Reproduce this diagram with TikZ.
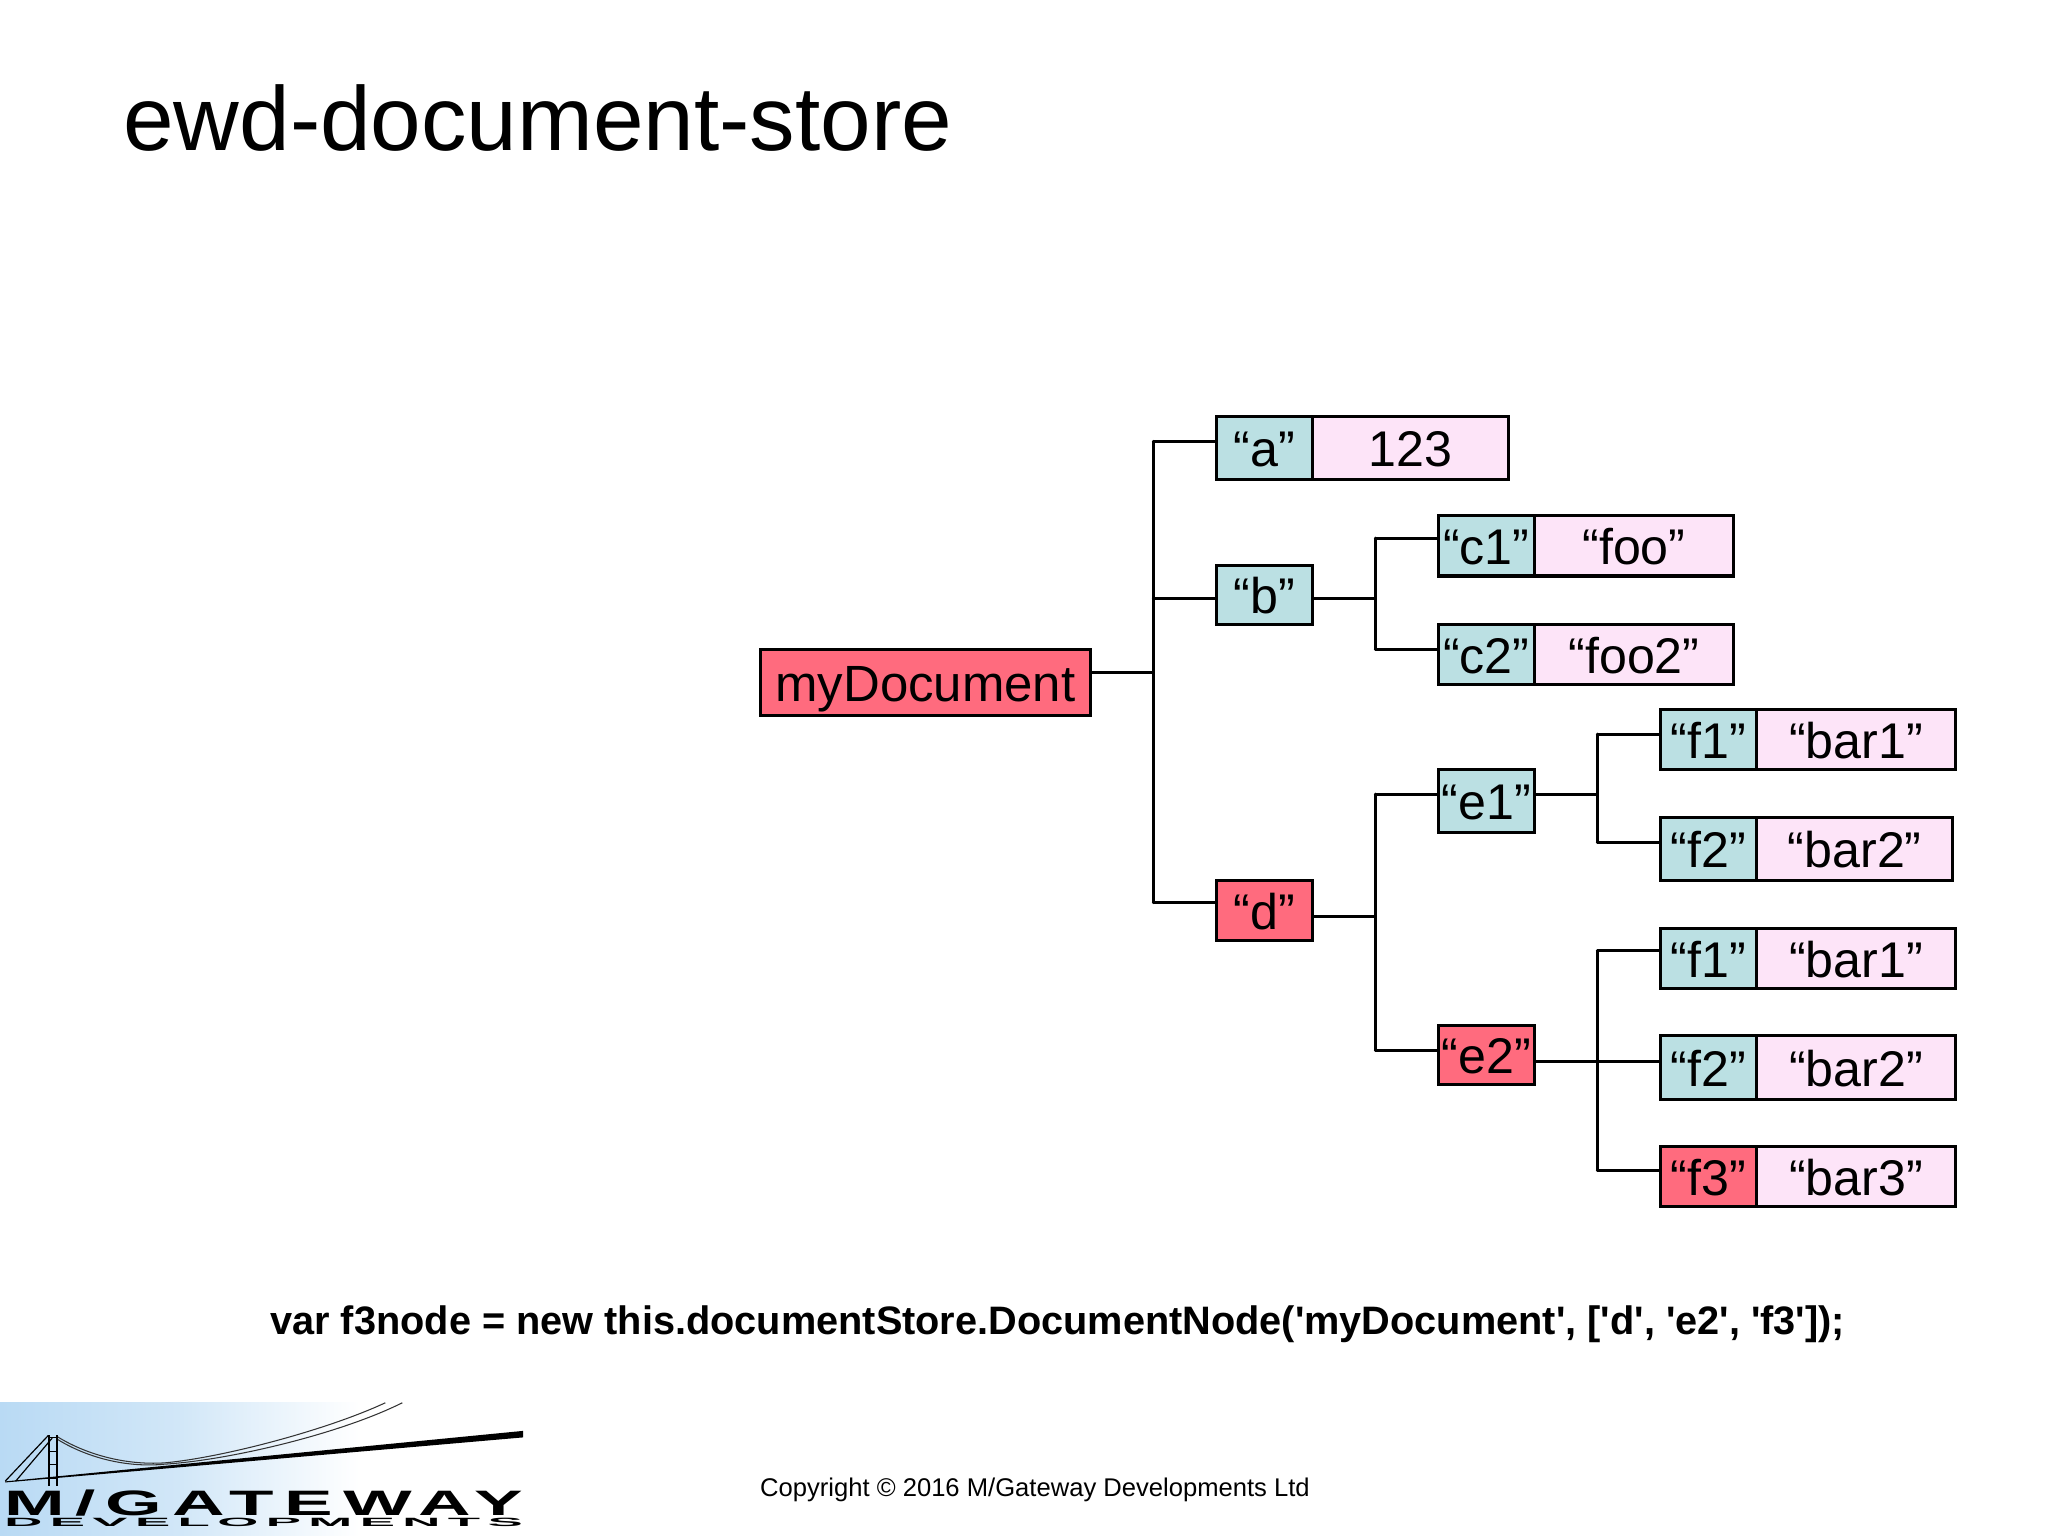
\documentclass[tikz,border=0pt]{standalone}
\usepackage{graphicx}
\usepackage{fontspec}
\setmainfont{Liberation Sans}
\newfontfamily\codefont[Ligatures=NoCommon,Mapping=]{Liberation Sans}
\newfontfamily\logofont[LetterSpace=14]{Liberation Sans}
\definecolor{redc}{HTML}{FF6B7E}
\definecolor{tealc}{HTML}{BBE0E3}
\definecolor{pinkc}{HTML}{FDE4F8}
\definecolor{logoblue}{HTML}{B9DAF4}
\tikzset{
  cell/.style={draw=black,line width=1.15pt,inner sep=0pt,outer sep=0pt,text height=14.4pt,text depth=0pt,font=\fontsize{19.2}{23}\selectfont},
  rootcell/.style={cell,fill=redc,font=\fontsize{19.5}{23}\selectfont},
  hotcell/.style={cell,fill=redc},
  keycell/.style={cell,fill=tealc},
  valcell/.style={cell,fill=pinkc},
  conn/.style={draw=black,line width=1.15pt,line cap=round},
  cable/.style={draw=black!80,line width=0.4pt},
  flat/.style={inner sep=0pt,outer sep=0pt}
}
\newcommand{\Cell}[7]{\node[#6,minimum width={(#3-#2)*0.5pt},minimum height={(#5-#4)*0.5pt}] (#1) at ({(#2+#3)/2},{(#4+#5)/2}) {#7};}
\begin{document}
\begin{tikzpicture}[x=0.5pt,y=-0.5pt]
\useasboundingbox (0,0) rectangle (1568,1176);
\fill[white] (0,0) rectangle (1568,1176);
% title and captions
\node[flat,anchor=base west,font=\fontsize{34.8}{40}\selectfont] (title) at (94.5,115) {ewd-document-store};
\node[flat,anchor=base west,font=\fontsize{15.2}{18}\codefont\bfseries] (code) at (207,1022) {var f3node = new this.documentStore.DocumentNode('myDocument', ['d', 'e2', 'f3']);};
\node[flat,anchor=base west,font=\fontsize{9.8}{12}\selectfont] (copy) at (582,1146) {Copyright © 2016 M/Gateway Developments Ltd};
% junctions
\coordinate (t1) at (883,338);
\coordinate (t2) at (883,458);
\coordinate (t3) at (883,515);
\coordinate (t4) at (883,691);
\coordinate (u1) at (1053,412);
\coordinate (u2) at (1053,458);
\coordinate (u3) at (1053,497);
\coordinate (v1) at (1053,608);
\coordinate (v2) at (1053,702);
\coordinate (v3) at (1053,804);
\coordinate (w1) at (1223,562);
\coordinate (w2) at (1223,608);
\coordinate (w3) at (1223,645);
\coordinate (x1) at (1223,728);
\coordinate (x2) at (1223,813);
\coordinate (x3) at (1223,896);
% connectors
\draw[conn] (t1) -- (t4);
\draw[conn] (u1) -- (u3);
\draw[conn] (v1) -- (v3);
\draw[conn] (w1) -- (w3);
\draw[conn] (x1) -- (x3);
% boxes
\Cell{root}{582}{835}{497}{548}{rootcell}{myDocument}
\Cell{a}{931}{1005}{319}{367}{keycell}{“a”}
\Cell{av}{1005}{1155}{319}{367}{valcell}{123}
\Cell{b}{931}{1005}{433}{478}{keycell}{“b”}
\Cell{d}{931}{1005}{674}{720}{hotcell}{“d”}
\Cell{c1}{1101}{1175}{395}{441}{keycell}{“c1”}
\Cell{c1v}{1175}{1327}{395}{441}{valcell}{“foo”}
\Cell{c2}{1101}{1175}{478}{524}{keycell}{“c2”}
\Cell{c2v}{1175}{1327}{478}{524}{valcell}{“foo2”}
\Cell{e1}{1101}{1175}{589}{637}{keycell}{“e1”}
\Cell{e2}{1101}{1175}{785}{830}{hotcell}{“e2”}
\Cell{f1}{1271}{1345}{543}{589}{keycell}{“f1”}
\Cell{f1v}{1345}{1497}{543}{589}{valcell}{“bar1”}
\Cell{f2}{1271}{1345}{626}{674}{keycell}{“f2”}
\Cell{f2v}{1345}{1495}{626}{674}{valcell}{“bar2”}
\Cell{g1}{1271}{1345}{711}{757}{keycell}{“f1”}
\Cell{g1v}{1345}{1497}{711}{757}{valcell}{“bar1”}
\Cell{g2}{1271}{1345}{793}{842}{keycell}{“f2”}
\Cell{g2v}{1345}{1497}{793}{842}{valcell}{“bar2”}
\Cell{g3}{1271}{1345}{878}{924}{hotcell}{“f3”}
\Cell{g3v}{1345}{1497}{878}{924}{valcell}{“bar3”}
\draw[conn] (root.east |- t3) -- (t3);
\draw[conn] (t1) -- (a.west |- t1);
\draw[conn] (t2) -- (b.west |- t2);
\draw[conn] (t4) -- (d.west |- t4);
\draw[conn] (b.east |- u2) -- (u2);
\draw[conn] (u1) -- (c1.west |- u1);
\draw[conn] (u3) -- (c2.west |- u3);
\draw[conn] (d.east |- v2) -- (v2);
\draw[conn] (v1) -- (e1.west |- v1);
\draw[conn] (v3) -- (e2.west |- v3);
\draw[conn] (e1.east |- w2) -- (w2);
\draw[conn] (w1) -- (f1.west |- w1);
\draw[conn] (w3) -- (f2.west |- w3);
\draw[conn] (e2.east |- x2) -- (g2.west |- x2);
\draw[conn] (x1) -- (g1.west |- x1);
\draw[conn] (x3) -- (g3.west |- x3);
% logo
\shade[left color=logoblue,right color=white,middle color=logoblue!65] (0,1074) rectangle (275,1176);
\draw[cable] (44,1100) .. controls (65,1113) and (95,1122) .. (126,1120) .. controls (170,1116) and (250,1095) .. (295,1074);
\draw[cable] (44,1102) .. controls (65,1115) and (95,1124) .. (126,1121) .. controls (175,1118) and (260,1098) .. (308,1074);
\draw[black,line width=0.45pt] (37,1099) -- (4,1134);
\draw[black,line width=0.45pt] (40,1101) -- (12,1134);
\fill[black] (36.5,1099) rectangle (38.2,1138);
\fill[black] (42.5,1099) rectangle (44.2,1138);
\foreach \yy in {1100,1111,1121,1131} \fill[black] (37,\yy) rectangle (44,\yy+1);
\fill[black] (4,1134.2) -- (400.6,1095.5) -- (400.6,1100.5) -- (4,1135) -- cycle;
\node[flat,anchor=south west] (logoa) at (3.3,1160.5) {\resizebox{198.5pt}{9.8pt}{\logofont\bfseries M/GATEWAY}};
\node[flat,anchor=south west] (logob) at (3.3,1168.5) {\resizebox{198.5pt}{3.2pt}{\logofont\bfseries DEVELOPMENTS}};
\end{tikzpicture}
\end{document}
